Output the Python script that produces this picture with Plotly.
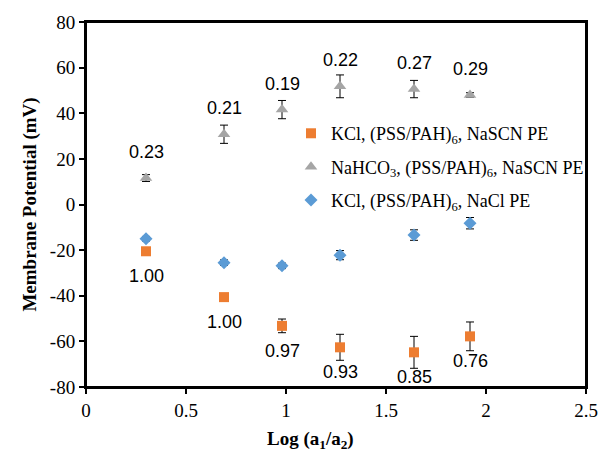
import plotly.graph_objects as go

# Data
x_vals = [0.30, 0.69, 0.98, 1.27, 1.64, 1.92]

kcl_nascn = [-20.5, -40.6, -53.2, -62.6, -64.8, -57.8]
kcl_nascn_err = [1.0, 1.5, 3.0, 5.7, 7.0, 6.3]
kcl_nascn_labels = ["1.00", "1.00", "0.97", "0.93", "0.85", "0.76"]

nahco3_nascn = [11.6, 30.8, 41.6, 51.8, 50.6, 48.0]
nahco3_nascn_err = [1.5, 4.0, 4.0, 5.0, 3.8, 1.0]
nahco3_nascn_labels = ["0.23", "0.21", "0.19", "0.22", "0.27", "0.29"]

kcl_nacl = [-15.0, -25.5, -26.9, -22.2, -13.4, -8.2]
kcl_nacl_err = [1.0, 1.2, 1.2, 2.0, 2.3, 2.5]

series_names = [
    "KCl, (PSS/PAH)<sub>6</sub>, NaSCN PE",
    "NaHCO<sub>3</sub>, (PSS/PAH)<sub>6</sub>, NaSCN PE",
    "KCl, (PSS/PAH)<sub>6</sub>, NaCl PE",
]

x_title = "<b>Log (a<sub>1</sub>/a<sub>2</sub>)</b>"
y_title = "<b>Membrane Potential (mV)</b>"

xtick_vals = [0, 0.5, 1, 1.5, 2, 2.5]
xtick_text = ["0", "0.5", "1", "1.5", "2", "2.5"]
ytick_vals = [-80, -60, -40, -20, 0, 20, 40, 60, 80]
ytick_text = ["-80", "-60", "-40", "-20", "0", "20", "40", "60", "80"]

ORANGE = "#ED7D31"
GRAY = "#A5A5A5"
BLUE = "#5B9BD5"
SERIF = "Liberation Serif"
SANS = "Liberation Sans"

def err(vals):
    return dict(type="data", array=vals, visible=True, color="black",
                thickness=1, width=4)

fig = go.Figure()
fig.add_trace(go.Scatter(
    x=x_vals, y=kcl_nascn, mode="markers", name=series_names[0],
    legendgroup="a",
    marker=dict(symbol="square", size=10, color=ORANGE),
    error_y=err(kcl_nascn_err)))
fig.add_trace(go.Scatter(
    x=x_vals, y=nahco3_nascn, mode="markers", name=series_names[1],
    legendgroup="b",
    marker=dict(symbol="triangle-up", size=11, color=GRAY),
    error_y=err(nahco3_nascn_err)))
fig.add_trace(go.Scatter(
    x=x_vals, y=kcl_nacl, mode="markers", name=series_names[2],
    legendgroup="c",
    marker=dict(symbol="diamond", size=10, color=BLUE),
    error_y=err(kcl_nacl_err)))

annotations = []
for xv, yv, t in zip(x_vals, nahco3_nascn, nahco3_nascn_labels):
    annotations.append(dict(x=xv, y=yv, text=t, showarrow=False, yshift=26,
                            font=dict(family=SANS, size=18, color="black")))
for xv, yv, t in zip(x_vals, kcl_nascn, kcl_nascn_labels):
    annotations.append(dict(x=xv, y=yv, text=t, showarrow=False, yshift=-25,
                            font=dict(family=SANS, size=18, color="black")))
# x-axis title, slightly left of centre as in the reference
annotations.append(dict(xref="paper", yref="paper", x=0.448, y=-0.145,
                        xanchor="center", yanchor="middle", showarrow=False,
                        text=x_title,
                        font=dict(family=SERIF, size=19, color="black")))

fig.update_layout(
    width=610, height=452,
    margin=dict(l=86, r=13, t=18, b=65),
    paper_bgcolor="white", plot_bgcolor="white",
    showlegend=True,
    legend=dict(x=0.41, y=0.745, xanchor="left", yanchor="top",
                bgcolor="rgba(0,0,0,0)", tracegroupgap=7,
                font=dict(family=SERIF, size=18, color="black")),
    annotations=annotations,
    shapes=[dict(type="rect", xref="paper", yref="paper", x0=0, y0=0,
                 x1=1, y1=1, line=dict(color="black", width=2),
                 layer="above")],
    xaxis=dict(range=[0, 2.5], tickvals=xtick_vals, ticktext=xtick_text,
               showgrid=False, zeroline=False, showline=True, mirror=True,
               linecolor="black", linewidth=2, ticks="outside", ticklen=5,
               tickcolor="black", tickwidth=2,
               tickfont=dict(family=SERIF, size=19, color="black")),
    yaxis=dict(range=[-80, 80], tickvals=ytick_vals, ticktext=ytick_text,
               showgrid=False, zeroline=False, showline=True, mirror=True,
               linecolor="black", linewidth=2, ticks="outside", ticklen=5,
               tickcolor="black", tickwidth=2,
               tickfont=dict(family=SERIF, size=19, color="black"),
               title=dict(text=y_title,
                          font=dict(family=SERIF, size=19, color="black"),
                          standoff=8)),
)

fig.write_html("out.html",
               config={"displayModeBar": False},
               post_script="document.body.style.margin='0';")
